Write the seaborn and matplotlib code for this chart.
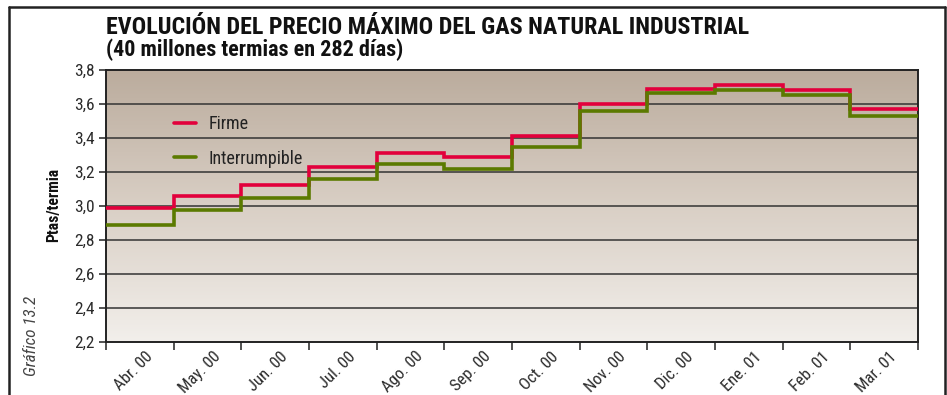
import numpy as np
import pandas as pd
import matplotlib
matplotlib.use("Agg")
import matplotlib.pyplot as plt
import matplotlib.transforms as mtransforms
from matplotlib import font_manager as fm
from matplotlib.colors import LinearSegmentedColormap
from matplotlib.lines import Line2D
import seaborn as sns

# Monthly maximum prices (Ptas/termia)
months = ["Abr. 00", "May. 00", "Jun. 00", "Jul. 00", "Ago. 00", "Sep. 00",
          "Oct. 00", "Nov. 00", "Dic. 00", "Ene. 01", "Feb. 01", "Mar. 01"]
firme = [2.99, 3.06, 3.125, 3.23, 3.31, 3.29, 3.41, 3.60, 3.69, 3.71, 3.68, 3.57]
interrumpible = [2.89, 2.975, 3.05, 3.16, 3.25, 3.22, 3.35, 3.56, 3.665, 3.685, 3.655, 3.53]
y_ticks = [2.2, 2.4, 2.6, 2.8, 3.0, 3.2, 3.4, 3.6, 3.8]


def first_installed(names):
    for name in names:
        try:
            fm.findfont(fm.FontProperties(family=name), fallback_to_default=False)
            return name
        except ValueError:
            continue
    return "DejaVu Sans"


sns.set_theme(style="white")
FONT = first_installed(["Liberation Sans Narrow", "Roboto Condensed", "Arial Narrow",
                        "Nimbus Sans Narrow", "Liberation Sans", "Roboto"])
plt.rcParams["font.family"] = [FONT, "DejaVu Sans"]
NARROW = "Narrow" in FONT or "Condensed" in FONT

RED = "#e2003c"
GREEN = "#5b7a00"
TEXT = "#2b2b2b"

# Each month is a step spanning [i, i+1]; repeat the last value to close the final step
n = len(months)
rows = []
for name, vals in (("Firme", firme), ("Interrumpible", interrumpible)):
    for i in range(n + 1):
        rows.append({"pos": i, "precio": vals[min(i, n - 1)], "serie": name})
df = pd.DataFrame(rows)

W, H = 947, 395
fig = plt.figure(figsize=(W / 100, H / 100), dpi=100)
fig.patch.set_facecolor("white")
ax = fig.add_axes([106 / W, (H - 342) / H, 812 / W, 272 / H])
renderer = fig.canvas.get_renderer()


def fit_size(txt, target_px, vertical=False):
    """Scale a text's font size so that its drawn extent matches target_px."""
    bb = txt.get_window_extent(renderer)
    cur = bb.height if vertical else bb.width
    txt.set_fontsize(txt.get_fontsize() * target_px / cur)


# Vertical background gradient: warm taupe at the top fading to off-white
grad_cmap = LinearSegmentedColormap.from_list("bg", ["#f2efeb", "#d9cfc5", "#bbac9d"])
grad = np.linspace(0, 1, 256).reshape(-1, 1)
ax.imshow(grad, extent=[0, n, 2.2, 3.8], origin="lower", aspect="auto",
          cmap=grad_cmap, zorder=0)

for yv in y_ticks[1:-1]:
    ax.axhline(yv, color="#333333", lw=1.1, zorder=1)

sns.lineplot(data=df, x="pos", y="precio", hue="serie",
             palette={"Firme": RED, "Interrumpible": GREEN},
             drawstyle="steps-post", lw=2.6, legend=False, ax=ax, zorder=3,
             solid_joinstyle="miter", estimator=None)

ax.set_xlim(0, n)
ax.set_ylim(2.2, 3.8)
ax.set_xlabel("")
ax.set_ylabel("")

tick_fs = 12.5 if NARROW else 10.5
xtick_fs = 12 if NARROW else 9.5

# Y axis ticks with comma decimals
ax.set_yticks(y_ticks)
ax.set_yticklabels([f"{v:.1f}".replace(".", ",") for v in y_ticks],
                   fontsize=tick_fs, color=TEXT)
ax.tick_params(axis="y", which="major", direction="out", length=5, width=1.1,
               color="#222222", left=True, pad=3)

# X axis: tick marks at month boundaries, labels centred on each month
ax.set_xticks(np.arange(n + 1))
ax.set_xticklabels([])
ax.set_xticks(np.arange(n) + 0.5, minor=True)
ax.set_xticklabels(months, minor=True, rotation=45, ha="right", va="top",
                   rotation_mode="anchor", fontsize=xtick_fs, color=TEXT)
ax.tick_params(axis="x", which="major", direction="out", length=6, width=1.1,
               color="#222222", bottom=True)
ax.tick_params(axis="x", which="minor", length=0, pad=5)
offset = mtransforms.ScaledTranslation(5 / 100, 0, fig.dpi_scale_trans)
for lab in ax.get_xticklabels(minor=True):
    lab.set_transform(lab.get_transform() + offset)

for side in ("left", "bottom", "top", "right"):
    ax.spines[side].set_visible(True)
    ax.spines[side].set_color("#222222")
    ax.spines[side].set_linewidth(1.4)

# Y axis title placed beside the tick labels
ylab = fig.text(54 / W, 1 - 205 / H, "Ptas/termia", rotation=90, fontsize=10,
                fontweight="bold", color="#111111", ha="center", va="center")
fit_size(ylab, 74, vertical=True)

# Legend drawn inside the plot area
handles = [Line2D([], [], color=RED, lw=2.6), Line2D([], [], color=GREEN, lw=2.6)]
ax.legend(handles, ["Firme", "Interrumpible"], loc="upper left",
          bbox_to_anchor=(0.075, 0.86), frameon=False,
          fontsize=13 if NARROW else 12,
          handlelength=1.2, handletextpad=0.7, labelspacing=0.9,
          labelcolor="#222222", borderaxespad=0)

# Titles
t1 = fig.text(106 / W, 1 - 27 / H, "EVOLUCIÓN DEL PRECIO MÁXIMO DEL GAS NATURAL INDUSTRIAL",
              fontsize=16, fontweight="bold", color="#111111", va="center", ha="left")
fit_size(t1, 640)
t2 = fig.text(106 / W, 1 - 50 / H, "(40 millones termias en 282 días)",
              fontsize=12, fontweight="bold", color="#111111", va="center", ha="left")
fit_size(t2, 297)

# Side caption
t3 = fig.text(32 / W, 1 - 376 / H, "Gráfico 13.2", rotation=90, fontsize=12,
              fontstyle="italic", color="#444444", ha="center", va="bottom")
fit_size(t3, 80, vertical=True)

# Outer frame (open at the bottom)
frame_kw = dict(color="#222222", lw=1.8, transform=fig.transFigure, zorder=10)
fig.add_artist(Line2D([9 / W, 9 / W], [0, 1 - 7 / H], **frame_kw))
fig.add_artist(Line2D([9 / W, 945 / W], [1 - 7 / H, 1 - 7 / H], **frame_kw))
fig.add_artist(Line2D([945 / W, 945 / W], [0, 1 - 7 / H], **frame_kw))

fig.savefig("out.png", dpi=100)
